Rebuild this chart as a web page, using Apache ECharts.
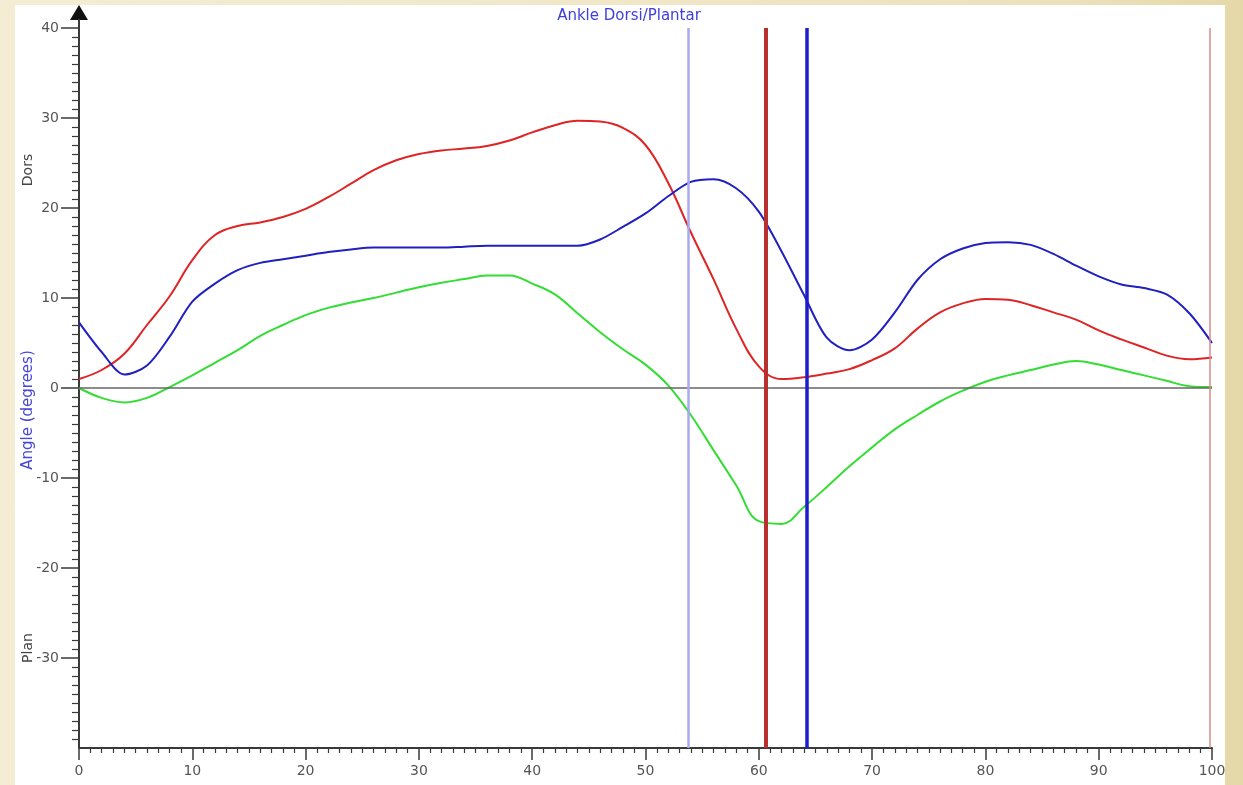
<!DOCTYPE html>
<html>
<head>
<meta charset="utf-8">
<script src="https://cdn.jsdelivr.net/npm/echarts@6/dist/echarts.min.js"></script>
<style>
  html, body { margin: 0; padding: 0; width: 1243px; height: 785px; overflow: hidden; }
  body { background: linear-gradient(to right, #f4edd4 0%, #f1e8ca 45%, #ece1bd 85%, #e5d8a8 100%); position: relative; }
  #panel { position: absolute; left: 15px; top: 5px; width: 1210px; height: 780px; background: #ffffff; }
  #chart { position: absolute; left: 15px; top: 0; width: 1210px; height: 785px; }
</style>
</head>
<body>
<div id="panel"></div>
<div id="chart"></div>
<script>
// % gait cycle sample positions
const pct = [0,2,4,6,8,10,12,14,16,18,20,22,24,26,28,30,32,34,36,38,40,42,44,46,48,50,
             52,54,56,58,60,62,64,66,68,70,72,74,76,78,80,82,84,86,88,90,92,94,96,98,100];
// Ankle dorsi/plantar angle (degrees)
const redCurve = [1.0,2.0,3.8,7.0,10.2,14.2,17.0,18.0,18.4,19.0,19.9,21.2,22.7,24.2,25.3,26.0,26.4,26.6,26.9,27.5,
                  28.4,29.2,29.7,29.6,28.9,27.0,22.8,17.3,12.1,6.6,2.4,1.0,1.2,1.6,2.1,3.1,4.4,6.6,8.4,9.4,
                  9.9,9.8,9.2,8.4,7.6,6.4,5.4,4.5,3.6,3.2,3.4];
const blueCurve = [7.3,4.0,1.5,2.5,5.7,9.6,11.6,13.1,13.9,14.3,14.7,15.1,15.4,15.6,15.6,15.6,15.6,15.7,15.8,15.8,
                   15.8,15.8,15.8,16.5,17.9,19.4,21.3,22.9,23.2,22.2,19.6,15.2,10.3,5.6,4.2,5.4,8.4,12.0,14.3,15.5,
                   16.1,16.2,15.9,14.9,13.6,12.4,11.5,11.1,10.4,8.3,5.0];
const greenCurve = [0.0,-1.1,-1.6,-1.1,0.1,1.4,2.8,4.2,5.8,7.0,8.1,8.9,9.5,10.0,10.6,11.2,11.7,12.1,12.5,12.5,
                    11.6,10.4,8.3,6.2,4.3,2.6,0.3,-3.0,-6.9,-10.8,-14.8,-15.1,-13.2,-11.0,-8.7,-6.6,-4.6,-3.0,-1.5,-0.3,
                    0.7,1.4,2.0,2.6,3.0,2.6,2.0,1.4,0.8,0.2,0.1];
// Gait event markers (% cycle)
const eventPositions = [53.75, 60.64, 64.25, 99.8];
const eventColors = ['#a9a9f2', '#b8302e', '#1c1ccc', '#d98a8a'];
const eventWidths = [2.5, 4, 3.5, 1.5];

// Labelled y-axis ticks
const yTickValues = [-30, -20, -10, 0, 10, 20, 30, 40];

const titleText = 'Ankle Dorsi/Plantar';
const yAxisTitle = 'Angle (degrees)';
const upperLabel = 'Dors';
const lowerLabel = 'Plan';

const FONT = 'DejaVu Sans';
const chart = echarts.init(document.getElementById('chart'), null, { renderer: 'canvas' });

function toPairs(ys) { return pct.map((p, i) => [p, ys[i]]); }

const axisColor = '#3a3a3a';

const option = {
  animation: false,
  backgroundColor: 'transparent',
  grid: { left: 64, right: 13, top: 28, bottom: 37, containLabel: false, outerBoundsMode: 'none' },
  xAxis: {
    type: 'value', min: 0, max: 100, interval: 10,
    axisLine: { show: true, onZero: false, lineStyle: { color: axisColor, width: 2 } },
    axisTick: { show: true, length: 12, lineStyle: { color: axisColor, width: 1.5 } },
    minorTick: { show: true, splitNumber: 10, length: 5, lineStyle: { color: axisColor, width: 1.2 } },
    axisLabel: { color: '#555', fontFamily: FONT, fontSize: 14, margin: 16 },
    splitLine: { show: false }
  },
  yAxis: {
    type: 'value', min: -40, max: 40, interval: 10,
    axisLine: { show: true, onZero: false, lineStyle: { color: axisColor, width: 2 } },
    axisTick: { show: true, length: 18, customValues: yTickValues, lineStyle: { color: axisColor, width: 1.5 } },
    minorTick: { show: true, splitNumber: 10, length: 7, lineStyle: { color: axisColor, width: 1.2 } },
    axisLabel: { color: '#555', fontFamily: FONT, fontSize: 14, margin: 20, customValues: yTickValues },
    splitLine: { show: false }
  },
  series: [
    { name: 'red', type: 'line', data: toPairs(redCurve), showSymbol: false, smooth: 0.4,
      lineStyle: { color: '#de2424', width: 2 }, itemStyle: { color: '#de2424' },
      markLine: { silent: true, symbol: ['none', 'none'], label: { show: false },
                  lineStyle: { color: '#666', width: 1.5, type: 'solid' }, data: [{ yAxis: 0 }] } },
    { name: 'blue', type: 'line', data: toPairs(blueCurve), showSymbol: false, smooth: 0.3,
      lineStyle: { color: '#2020c0', width: 2 }, itemStyle: { color: '#2020c0' } },
    { name: 'green', type: 'line', data: toPairs(greenCurve), showSymbol: false, smooth: 0.4,
      lineStyle: { color: '#33dd33', width: 2 }, itemStyle: { color: '#33dd33' } },
    { name: 'events', type: 'line', data: [], showSymbol: false,
      markLine: { silent: true, symbol: ['none', 'none'], label: { show: false },
                  data: eventPositions.map((x, i) => ({ xAxis: x,
                    lineStyle: { color: eventColors[i], width: eventWidths[i], type: 'solid' } })) } }
  ],
  graphic: [
    { type: 'text', z: 10, x: 614, y: 16,
      style: { text: titleText, fill: '#3d3de0', font: '15px "' + FONT + '"', align: 'center', verticalAlign: 'middle' } },
    { type: 'polygon', z: 10, shape: { points: [[64, 5], [55, 20], [73, 20]] }, style: { fill: '#111' } },
    { type: 'line', z: 10, shape: { x1: 64, y1: 19, x2: 64, y2: 29 }, style: { stroke: axisColor, lineWidth: 2 } },
    { type: 'text', z: 10, x: 13, y: 170, rotation: Math.PI / 2,
      style: { text: upperLabel, fill: '#444', font: '14px "' + FONT + '"', align: 'center', verticalAlign: 'middle' } },
    { type: 'text', z: 10, x: 13, y: 410, rotation: Math.PI / 2,
      style: { text: yAxisTitle, fill: '#4646dc', font: '15px "' + FONT + '"', align: 'center', verticalAlign: 'middle' } },
    { type: 'text', z: 10, x: 13, y: 648, rotation: Math.PI / 2,
      style: { text: lowerLabel, fill: '#444', font: '14px "' + FONT + '"', align: 'center', verticalAlign: 'middle' } }
  ]
};

chart.setOption(option);
</script>
</body>
</html>
